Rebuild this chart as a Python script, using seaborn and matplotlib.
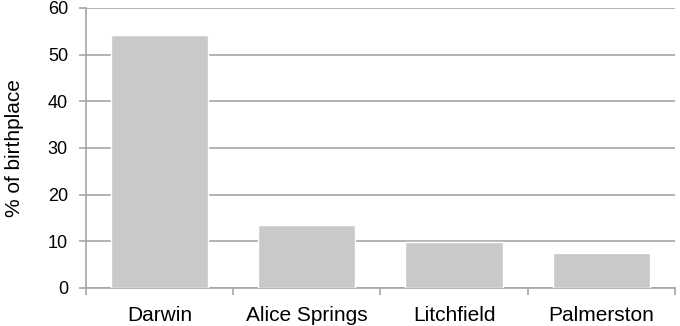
import matplotlib
matplotlib.use("Agg")
import matplotlib.pyplot as plt
import seaborn as sns
import pandas as pd

# --- data ---
places = ["Darwin", "Alice Springs", "Litchfield", "Palmerston"]
pct_birthplace = [54.2, 13.4, 9.8, 7.4]
y_ticks = [0, 10, 20, 30, 40, 50, 60]

df = pd.DataFrame({"place": places, "pct": pct_birthplace})

sns.set_theme(style="white")
plt.rcParams["font.family"] = ["Liberation Sans", "DejaVu Sans"]

grey_line = "#a6a6a6"

fig = plt.figure(figsize=(6.8, 3.26), dpi=100)
ax = fig.add_axes([0.1265, 0.1166, 0.866, 0.859])

sns.barplot(data=df, x="place", y="pct", color="#c8c9cb", width=0.66,
            saturation=1, ax=ax, zorder=3)

ax.set_ylim(0, 60)
ax.set_yticks(y_ticks)
ax.set_xlim(-0.5, len(places) - 0.5)
ax.yaxis.grid(True, color=grey_line, linewidth=1.2, zorder=0)
ax.set_axisbelow(True)

# category boundary ticks on x, labels centred on bars
ax.set_xticks([i - 0.5 for i in range(len(places) + 1)], minor=True)
ax.tick_params(axis="x", which="minor", length=5, width=1.2, color=grey_line, direction="out")
ax.tick_params(axis="x", which="major", length=0, pad=13, labelsize=15, labelcolor="black")
ax.tick_params(axis="y", length=5, width=1.2, color=grey_line, direction="out",
               pad=8, labelsize=13, labelcolor="black")
ax.tick_params(bottom=True, left=True, which="both")

for side in ["top", "right"]:
    ax.spines[side].set_visible(False)
for side in ["left", "bottom"]:
    ax.spines[side].set_color(grey_line)
    ax.spines[side].set_linewidth(1.2)

ax.set_xlabel("")
ax.set_ylabel("% of birthplace", fontsize=15, color="black")
ax.yaxis.set_label_coords(-0.105, 0.5)

fig.savefig("out.png", dpi=100)
